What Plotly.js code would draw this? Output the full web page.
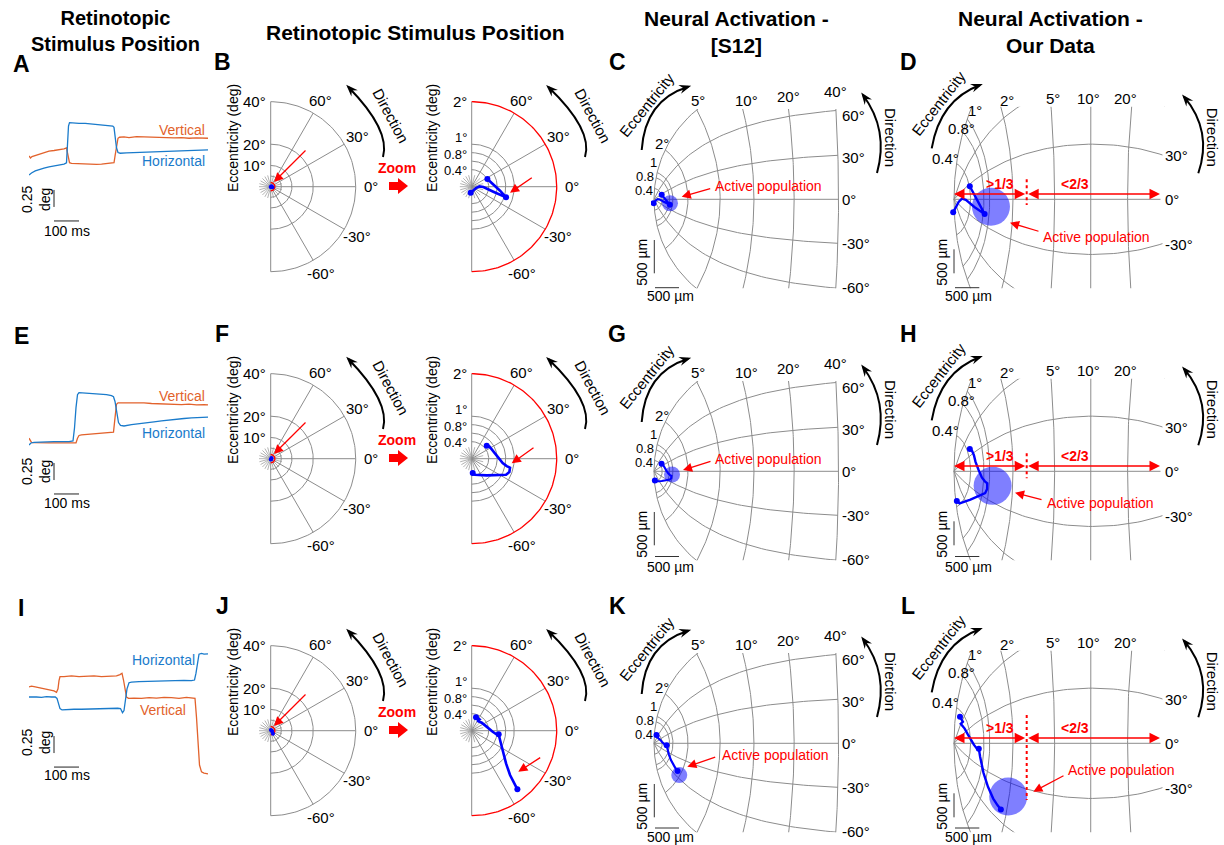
<!DOCTYPE html>
<html>
<head>
<meta charset="utf-8">
<script src="https://cdn.plot.ly/plotly-3.0.1.min.js"></script>
<style>html,body{margin:0;padding:0;background:#fff}#chart{width:1224px;height:845px}</style>
</head>
<body>
<div id="chart"></div>
<script>
// ================= DATA =================
const columnTitles = ['Retinotopic<br>Stimulus Position', 'Retinotopic Stimulus Position',
  'Neural Activation -<br>[S12]', 'Neural Activation -<br>Our Data'];
const panelLetters = [['A','B','C','D'],['E','F','G','H'],['I','J','K','L']];

// Eye position traces (time in ms, position in deg, arbitrary offset)
const tVert1 = [0,6,12,20,30,45,60,80,100,120,140,150,155,158,162,170,190,210,230,250,270,290,310,330,340,345,350,356,362,380,400,430,460,490,520,550,580,610,640,670,700,716];
const vert1  = [0.28,0.25,0.27,0.28,0.29,0.31,0.33,0.35,0.36,0.37,0.385,0.40,0.30,0.22,0.18,0.17,0.165,0.16,0.165,0.16,0.155,0.16,0.165,0.17,0.18,0.30,0.45,0.54,0.555,0.56,0.55,0.565,0.56,0.555,0.56,0.55,0.545,0.55,0.54,0.545,0.535,0.54];
const tHoriz1 = [0,10,25,40,60,80,100,120,140,150,154,158,162,175,200,225,250,275,300,320,335,340,345,350,356,365,390,420,450,480,510,540,570,600,630,660,690,716];
const horiz1  = [0.0,0.03,0.06,0.08,0.10,0.12,0.13,0.15,0.16,0.18,0.45,0.72,0.77,0.765,0.76,0.76,0.75,0.745,0.74,0.73,0.72,0.70,0.55,0.40,0.33,0.32,0.325,0.33,0.335,0.34,0.345,0.35,0.35,0.355,0.36,0.365,0.365,0.37];

const tVert2 = [0,5,10,20,40,60,80,100,120,140,160,180,188,194,200,210,230,250,270,290,310,330,338,344,350,356,370,400,430,460,490,520,550,580,610,640,670,700,716];
const vert2  = [0.10,0.06,0.04,0.035,0.03,0.035,0.03,0.03,0.035,0.03,0.03,0.025,0.03,0.10,0.14,0.15,0.155,0.16,0.165,0.17,0.175,0.185,0.19,0.40,0.60,0.62,0.62,0.625,0.615,0.62,0.61,0.605,0.61,0.60,0.595,0.60,0.59,0.595,0.59];
const tHoriz2 = [0,8,20,40,60,80,100,120,140,160,176,182,188,194,200,220,250,280,310,330,338,344,350,358,366,380,410,440,470,500,530,560,590,620,650,680,716];
const horiz2  = [0.0,0.03,0.04,0.045,0.05,0.045,0.05,0.05,0.045,0.05,0.06,0.25,0.55,0.74,0.77,0.765,0.76,0.75,0.74,0.725,0.71,0.64,0.48,0.33,0.29,0.28,0.30,0.31,0.33,0.34,0.355,0.37,0.38,0.39,0.40,0.405,0.41];

const tVert3 = [0,10,25,40,55,70,85,100,110,116,120,124,140,170,200,230,260,290,320,350,364,372,378,384,390,398,420,450,480,510,540,570,600,630,655,664,670,676,682,690,700,716];
const vert3  = [0.15,0.16,0.15,0.14,0.13,0.12,0.11,0.09,0.07,0.12,0.24,0.30,0.30,0.31,0.30,0.305,0.31,0.30,0.305,0.31,0.33,0.35,0.25,0.10,0.0,-0.02,-0.015,-0.02,-0.01,-0.015,-0.005,-0.01,-0.02,-0.005,-0.01,-0.02,-0.3,-0.7,-1.0,-1.1,-1.12,-1.13];
const tHoriz3 = [0,15,30,50,70,90,105,112,118,124,132,150,180,210,240,270,300,330,355,366,374,380,386,392,400,410,440,470,500,530,560,590,620,650,662,668,674,680,690,700,716];
const horiz3  = [0.0,0.005,0.0,-0.005,0.005,0.0,0.0,-0.02,-0.10,-0.17,-0.19,-0.185,-0.18,-0.18,-0.175,-0.175,-0.17,-0.17,-0.165,-0.17,-0.23,-0.20,-0.05,0.12,0.21,0.22,0.225,0.23,0.235,0.23,0.24,0.24,0.245,0.24,0.25,0.35,0.52,0.63,0.64,0.63,0.635];

// Retinal stimulus trajectories (deg, horizontal / vertical)
const trajX1 = [-0.024,0.024,0.102,0.180,0.275,0.510,0.808,0.667,0.510,0.369];
const trajY1 = [-0.141,-0.094,-0.031,0.008,-0.008,-0.118,-0.251,-0.094,0.063,0.180];
const trajDots1 = [0,6,9];
const trajX2 = [0.024,0.078,0.353,0.667,0.808,0.886,0.902,0.824,0.729,0.627,0.533,0.478,0.416,0.353];
const trajY2 = [-0.337,-0.376,-0.392,-0.392,-0.376,-0.314,-0.212,-0.173,-0.102,0.024,0.141,0.235,0.290,0.306];
const trajDots2 = [0,13];
const trajX3 = [0.102,0.180,0.133,0.235,0.314,0.392,0.494,0.573,0.635,0.667,0.729,0.808,0.902,0.996,1.075];
const trajY3 = [0.314,0.267,0.235,0.188,0.125,0.055,-0.024,-0.078,-0.086,-0.220,-0.494,-0.769,-1.043,-1.239,-1.380];
const trajDots3 = [0,8,14];

// Active population centres (retinal deg)
const popCx = [0.82, 0.94, 1.11], popCy = [-0.18, -0.15, -1.61];
const popDx = [1.04, 1.09, 1.50], popDy = [-0.14, -0.28, -1.26];

// Grid values
const wideRings = [5, 10, 20, 40];
const wideZoomRing = 2;
const zoomRings = [0.4, 0.6, 0.8, 1.0];
const zoomOuter = 2;
const rayDirs = [-60, -30, 0, 30, 60];
const wideEccTicks = [40, 20, 10];
const zoomEccTicks = [2, 1, 0.8, 0.4];
const dirTicks = [60, 30, 0, -30, -60];
const eccC = [0.4, 0.8, 1, 2, 5, 10, 20, 40];
const eccD = [0.4, 0.8, 1, 2, 5, 10, 20];
const dirMap = [-90, -60, -30, 0, 30, 60, 90];
const eccLabelsC = ['0.4','0.8','1','2°','5°','10°','20°','40°'];
const eccLabelsD = ['0.4°','0.8°','1°','2°','5°','10°','20°'];
const dirLabelsC = ['60°','30°','0°','-30°','-60°'];
const dirLabelsD = ['30°','0°','-30°'];

// ================= LAYOUT / STYLE =================
const W = 1224, H = 845;
const rowDY = [0, 272, 544];
const FONT = 'Arial, "Liberation Sans", Helvetica, sans-serif';
const GRAY = 'rgb(140,140,140)';
const RED = '#FF0000';
const ORANGE = '#E2622C';
const BLUE = '#1A7BCB';
const TRAJ = '#0000FF';

const traces = [], annotations = [], shapes = [];
const layout = {width: W, height: H, margin: {l:0, r:0, t:0, b:0}, paper_bgcolor: '#fff',
  plot_bgcolor: 'rgba(0,0,0,0)', showlegend: false, hovermode: false, annotations, shapes};
let axisCount = 0;
function addAxes(L, R, T, B, xr, yr) {
  axisCount++;
  const n = axisCount === 1 ? '' : String(axisCount);
  layout['xaxis' + n] = {domain: [L / W, R / W], range: xr, visible: false, fixedrange: true, anchor: 'y' + n};
  layout['yaxis' + n] = {domain: [1 - B / H, 1 - T / H], range: yr, visible: false, fixedrange: true, anchor: 'x' + n};
  return {x: 'x' + n, y: 'y' + n};
}
function line(ax, x, y, color, width, extra) {
  traces.push(Object.assign({type: 'scatter', mode: 'lines', x, y, xaxis: ax.x, yaxis: ax.y,
    line: {color, width}, hoverinfo: 'skip'}, extra || {}));
}
function dots(ax, x, y, color, size, opacity) {
  traces.push({type: 'scatter', mode: 'markers', x, y, xaxis: ax.x, yaxis: ax.y,
    marker: {color, size, opacity: opacity === undefined ? 1 : opacity, line: {width: 0}}, hoverinfo: 'skip'});
}
const cosd = a => Math.cos(a * Math.PI / 180), sind = a => Math.sin(a * Math.PI / 180);
const thetaSweep = []; for (let t = -90; t <= 90; t += 1.5) thetaSweep.push(t);

// decoration axis in page pixel units
const D0 = addAxes(0, W, 0, H, [0, W], [H, 0]);
traces.push({type: 'scatter', mode: 'markers', x: [-10], y: [-10], xaxis: 'x', yaxis: 'y', marker: {size: 1, opacity: 0}, hoverinfo: 'skip'});

function txt(x, y, text, o) {
  o = o || {};
  annotations.push({xref: 'x', yref: 'y', x, y, text, showarrow: false,
    xanchor: o.xa || 'center', yanchor: o.ya || 'middle', textangle: o.ang || 0, align: 'center',
    font: {family: FONT, size: o.size || 14, color: o.color || '#000'}});
}
function redArrow(tail, head, both, w) {
  annotations.push({xref: 'x', yref: 'y', axref: 'x', ayref: 'y', x: head[0], y: head[1],
    ax: tail[0], ay: tail[1], text: '', showarrow: true, arrowhead: 2, arrowsize: 1.4,
    arrowwidth: w || 1.3, arrowcolor: RED, arrowside: both ? 'end+start' : 'end', standoff: 0, startstandoff: 0});
}
function curvedArrow(p0, c, p1, dy) {
  shapes.push({type: 'path', xref: 'x', yref: 'y', layer: 'above',
    path: `M ${p0[0]} ${p0[1] + dy} Q ${c[0]} ${c[1] + dy} ${p1[0]} ${p1[1] + dy}`,
    line: {color: '#000', width: 2}});
  let ux = p1[0] - c[0], uy = p1[1] - c[1];
  const len = Math.hypot(ux, uy); ux /= len; uy /= len;
  const tip = [p1[0] + ux * 3, p1[1] + uy * 3 + dy];
  const base = [p1[0] - ux * 9, p1[1] - uy * 9 + dy];
  const nx = -uy, ny = ux, hw = 4.5;
  shapes.push({type: 'path', xref: 'x', yref: 'y', layer: 'above',
    path: `M ${tip[0]} ${tip[1]} L ${base[0] + nx * hw} ${base[1] + ny * hw} L ${p1[0] - ux * 5} ${p1[1] - uy * 5 + dy} L ${base[0] - nx * hw} ${base[1] - ny * hw} Z`,
    fillcolor: '#000', line: {width: 0}});
}
function seg(x0, y0, x1, y1, color, width, dash) {
  shapes.push({type: 'line', xref: 'x', yref: 'y', x0, y0, x1, y1, layer: 'above',
    line: {color, width, dash: dash || 'solid'}});
}

// ---- titles ----
txt(115, 31, '<b>' + columnTitles[0] + '</b>', {size: 20});
txt(415, 32, '<b>' + columnTitles[1] + '</b>', {size: 21});
txt(736, 32, '<b>' + columnTitles[2] + '</b>', {size: 21});
txt(1050, 32, '<b>' + columnTitles[3] + '</b>', {size: 21});

const eyeRows = [
  {tv: tVert1, v: vert1, th: tHoriz1, h: horiz1},
  {tv: tVert2, v: vert2, th: tHoriz2, h: horiz2},
  {tv: tVert3, v: vert3, th: tHoriz3, h: horiz3}
];
const eyeCfg = [
  {yr: [-1.103, 1.176], sbV: -0.47, sbH: -0.676, vLab: 130, hLab: 161, hLabX: 207, vLabX: 207, msY: 231, degY: 200},
  {yr: [-1.132, 1.147], sbV: -0.515, sbH: -0.72, vLab: 396, hLab: 433, hLabX: 207, vLabX: 207, msY: 503, degY: 472},
  {yr: [-1.426, 0.853], sbV: -0.824, sbH: -1.03, vLab: 710, hLab: 660, hLabX: 197, vLabX: 188, msY: 775, degY: 743}
];
const trajRows = [
  {x: trajX1, y: trajY1, d: trajDots1},
  {x: trajX2, y: trajY2, d: trajDots2},
  {x: trajX3, y: trajY3, d: trajDots3}
];

const modelC = {a: 3.3, b: 0, kx: 71.7, ky: 90.7, fx: 654, fy: 199.3, L: 651, R: 842, T: 109, B: 288.3, emax: 40};
const modelD = {a: 1.5, b: 70, kx: 72, ky: 140, fx: 954, fy: 199.3, L: 950, R: 1165, T: 106.7, B: 288.3, emax: 40};
function cortex(m, ex, ey) {
  const ar = ex + m.a;
  let X = Math.log(Math.hypot(ar, ey) / m.a);
  let Y = Math.atan2(ey, ar);
  if (m.b) {
    const br = ex + m.b;
    X -= Math.log(Math.hypot(br, ey) / m.b);
    Y -= Math.atan2(ey, br);
  }
  return [X, Y];
}
function mapPts(m, xs, ys) {
  const X = [], Y = [];
  xs.forEach((v, i) => { const p = cortex(m, v, ys[i]); X.push(p[0]); Y.push(p[1]); });
  return [X, Y];
}

function polarPanel(dy, cx, cy, s, L, R, T, B, rings, redRing, rayLen, spokeR, tr, lw, ds) {
  const ax = addAxes(L, R, T + dy, B + dy, [(L - cx) / s, (R - cx) / s], [(cy - B) / s, (cy - T) / s]);
  rings.forEach(r => line(ax, thetaSweep.map(t => r * cosd(t)), thetaSweep.map(t => r * sind(t)), GRAY, 1));
  for (let k = -11; k <= 12; k++) {
    const a = k * 15; if (a % 30 === 0 && Math.abs(a) <= 90) continue;
    line(ax, [0, spokeR * cosd(a)], [0, spokeR * sind(a)], 'rgb(160,160,160)', 0.8);
  }
  rayDirs.forEach(a => line(ax, [0, rayLen * cosd(a)], [0, rayLen * sind(a)], GRAY, 1));
  line(ax, [0, 0], [-rayLen, rayLen], GRAY, 1);
  line(ax, thetaSweep.map(t => redRing * cosd(t)), thetaSweep.map(t => redRing * sind(t)), RED, 1.3);
  line(ax, tr.x, tr.y, TRAJ, lw);
  dots(ax, tr.d.map(i => tr.x[i]), tr.d.map(i => tr.y[i]), TRAJ, ds);
  return ax;
}

function cortexPanel(dy, m, ecc, pop, tr, circleSize, lw) {
  const ax = addAxes(m.L, m.R, m.T + dy, m.B + dy,
    [(m.L - m.fx) / m.kx, (m.R - m.fx) / m.kx], [(m.fy - m.B) / m.ky, (m.fy - m.T) / m.ky]);
  ecc.forEach(e => {
    const p = mapPts(m, thetaSweep.map(t => e * cosd(t)), thetaSweep.map(t => e * sind(t)));
    line(ax, p[0], p[1], GRAY, 1);
  });
  const es = [0]; for (let k = 0; k < 120; k++) es.push(0.005 * Math.pow(m.emax / 0.005, k / 119));
  dirMap.forEach(d => {
    const p = mapPts(m, es.map(e => e * cosd(d)), es.map(e => e * sind(d)));
    line(ax, p[0], p[1], GRAY, 1);
  });
  const c = cortex(m, pop[0], pop[1]);
  dots(ax, [c[0]], [c[1]], 'rgb(0,0,255)', circleSize, 0.5);
  const p = mapPts(m, tr.x, tr.y);
  line(ax, p[0], p[1], TRAJ, lw);
  dots(ax, tr.d.map(i => p[0][i]), tr.d.map(i => p[1][i]), TRAJ, 6);
  return ax;
}

const actC = [{t: [768, 186], a0: [711.7, 188.3], a1: [681.7, 196.7]},
              {t: [768, 459], a0: [712, 461], a1: [683, 470]},
              {t: [775, 755], a0: [716.7, 756.7], a1: [687.3, 766.7]}];
const actD = [{t: [1096.7, 236.7], a0: [1040, 231.7], a1: [1010, 222.7]},
              {t: [1100, 503.3], a0: [1043, 500], a1: [1015, 492.7]},
              {t: [1121.7, 770], a0: [1065, 775], a1: [1033.3, 791.7]}];
const zoomArrowR = [{a0: [533.3, 176.7], a1: [510, 192.7]}, {a0: [535, 446.7], a1: [511.7, 463.3]}, {a0: [541.7, 756.7], a1: [518.3, 771.7]}];
const dottedD = [[179.3, 205], [453.3, 478.3], [715, 800]];
const sbY = [287.7, 556.5, 828], sbT = [296, 566.5, 836.5], sbRot = [262, 534, 806];
const zoomTickY = {2: 101.7, 1: 137.5, 0.8: 154, 0.4: 170.5};

for (let r = 0; r < 3; r++) {
  const dy = rowDY[r];
  const L = panelLetters[r];
  txt(21, 64 + dy, '<b>' + L[0] + '</b>', {size: 23});
  txt(222, 62 + dy, '<b>' + L[1] + '</b>', {size: 23});
  txt(617, 62 + dy, '<b>' + L[2] + '</b>', {size: 23});
  txt(908, 62 + dy, '<b>' + L[3] + '</b>', {size: 23});

  // ---- Column A: eye traces ----
  const ec = eyeCfg[r], er = eyeRows[r];
  const axA = addAxes(29, 211, 95 + dy, 250 + dy, [0, 728], ec.yr);
  line(axA, er.tv, er.v, ORANGE, 1.3);
  line(axA, er.th, er.h, BLUE, 1.3);
  line(axA, [100, 100], [ec.sbV, ec.sbV + 0.25], '#222', 1);
  line(axA, [100, 200], [ec.sbH, ec.sbH], '#222', 1);
  txt(ec.vLabX, ec.vLab, 'Vertical', {xa: 'right', color: ORANGE});
  txt(ec.hLabX, ec.hLab, 'Horizontal', {xa: 'right', color: BLUE});
  txt(66.7, ec.msY, '100 ms');
  txt(36, ec.degY, '0.25<br>deg', {ang: -90});

  // ---- Column B: polar plots ----
  const tr = trajRows[r];
  const cyB = 186.7;
  polarPanel(dy, 270.7, cyB, 2.125, 258, 362, 95, 280, wideRings, wideZoomRing, 40, 5.5, tr, 3, 4);
  polarPanel(dy, 471.7, cyB, 42.5, 455, 565, 95, 280, zoomRings, zoomOuter, 2, 0.28, tr, 2.6, 6);
  wideEccTicks.forEach(v => txt(267.7, cyB - v * 2.125 + dy, v + '°', {xa: 'right', size: 15}));
  zoomEccTicks.forEach(v => txt(468.7, zoomTickY[v] + dy, v + '°', {xa: 'right', size: v === 2 ? 15 : 13}));
  [270.7, 471.7].forEach(cx => dirTicks.forEach(a => txt(cx + 100 * cosd(a), cyB - 100 * sind(a) + dy, a + '°', {size: 15})));
  txt(233, 138 + dy, 'Eccentricity (deg)', {ang: -90});
  txt(432, 138 + dy, 'Eccentricity (deg)', {ang: -90});
  redArrow([307, 149 + dy], [274, 182 + dy]);
  redArrow(zoomArrowR[r].a0, zoomArrowR[r].a1);
  curvedArrow([383, 157], [390.5, 130], [348.3, 87], dy);
  curvedArrow([585, 157], [593.3, 130], [548.3, 87], dy);
  txt(391, 115 + dy, 'Direction', {ang: 62, size: 15});
  txt(593, 115 + dy, 'Direction', {ang: 62, size: 15});
  txt(397, 168 + dy, '<b>Zoom</b>', {color: RED, size: 14});
  shapes.push({type: 'path', xref: 'x', yref: 'y', layer: 'above', fillcolor: RED, line: {width: 0},
    path: `M 389 ${182 + dy} L 398 ${182 + dy} L 398 ${178 + dy} L 408 ${186 + dy} L 398 ${194 + dy} L 398 ${190 + dy} L 389 ${190 + dy} Z`});

  // ---- Column C: cortex, S12 model ----
  cortexPanel(dy, modelC, eccC, [popCx[r], popCy[r]], tr, 16, 2.2);
  const posC = [[643.5, 190], [645, 176.5], [653.3, 162.5], [661.7, 143.3], [698.3, 100], [746.7, 100], [788.3, 96], [835, 91.7]];
  eccLabelsC.forEach((s, i) => txt(posC[i][0], posC[i][1] + dy, s, {size: i < 3 ? 13 : 15}));
  const yC = [115, 157, 199, 243, 287];
  dirLabelsC.forEach((s, i) => txt(840, yC[i] + dy, s, {xa: 'left', size: 15}));
  txt(646, 105 + dy, 'Eccentricity', {ang: -51, size: 15});
  curvedArrow([641.7, 150], [645, 100], [688.3, 86.7], dy);
  curvedArrow([877, 173], [889, 130], [863, 95], dy);
  txt(891, 137 + dy, 'Direction', {ang: 90, size: 15});
  txt(actC[r].t[0], actC[r].t[1], 'Active population', {color: RED});
  redArrow(actC[r].a0, actC[r].a1);
  seg(654.3, 240 + dy, 654.3, 273.3 + dy, '#333', 1);
  seg(655, sbY[r], 679, sbY[r], '#333', 1);
  txt(670, sbT[r], '500 µm');
  txt(641.7, sbRot[r], '500 µm', {ang: -90});

  // ---- Column D: cortex, our model ----
  cortexPanel(dy, modelD, eccD, [popDx[r], popDy[r]], tr, 38, 2.4);
  const posD = [[945, 158.3], [961.7, 128.3], [975, 110], [1006.7, 100], [1053.3, 98.3], [1088.3, 98.3], [1125, 98.3]];
  eccLabelsD.forEach((s, i) => txt(posD[i][0], posD[i][1] + dy, s, {size: 15}));
  const yD = [155, 199.3, 244];
  dirLabelsD.forEach((s, i) => txt(1163, yD[i] + dy, s, {xa: 'left', size: 15}));
  txt(938.3, 103.3 + dy, 'Eccentricity', {ang: -52, size: 15});
  curvedArrow([931.7, 148.3], [940, 100], [980, 85], dy);
  curvedArrow([1198.3, 173.3], [1212.8, 131], [1184, 96.7], dy);
  txt(1212, 136.7 + dy, 'Direction', {ang: 90, size: 15});
  txt(actD[r].t[0], actD[r].t[1], 'Active population', {color: RED});
  redArrow(actD[r].a0, actD[r].a1);
  redArrow([1026.7, 194 + dy], [954, 194 + dy], true, 1.5);
  redArrow([1026.7, 194 + dy], [1160, 194 + dy], true, 1.5);
  seg(1026.7, dottedD[r][0], 1026.7, dottedD[r][1], RED, 2, 'dot');
  txt(1000, 184 + dy, '<b>&gt;1/3</b>', {color: RED, size: 14});
  txt(1075, 184 + dy, '<b>&lt;2/3</b>', {color: RED, size: 14});
  seg(954, 249.3 + dy, 954, 273.3 + dy, '#333', 1);
  seg(955, sbY[r], 979.3, sbY[r], '#333', 1);
  txt(968.3, sbT[r], '500 µm');
  txt(941.7, sbRot[r], '500 µm', {ang: -90});
}

Plotly.newPlot('chart', traces, layout, {staticPlot: true, displayModeBar: false});
</script>
</body>
</html>
